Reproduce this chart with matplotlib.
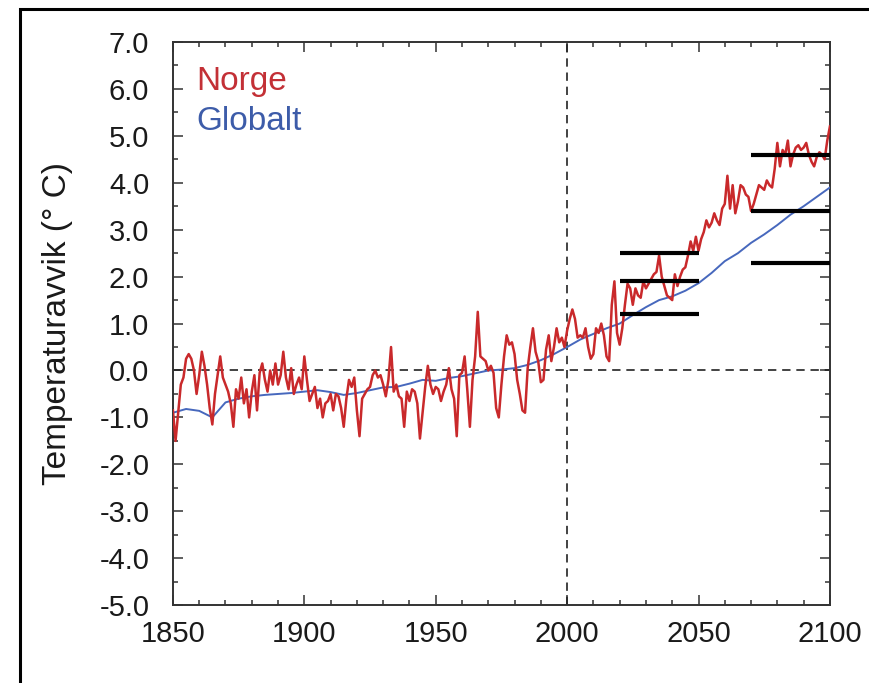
import numpy as np
import matplotlib
matplotlib.use("Agg")
import matplotlib.pyplot as plt
from matplotlib.patches import Rectangle
from matplotlib.ticker import MultipleLocator, FormatStrFormatter

plt.rcParams['font.family'] = ['Liberation Sans', 'DejaVu Sans']

# Norge: annual anomaly, 1850-2100
norge_years = list(range(1850, 2101))
norge = [
    -0.85, -1.5, -0.9, -0.3, -0.15, 0.25, 0.35, 0.25, 0.0, -0.5,      # 1850
    -0.1, 0.4, 0.1, -0.3, -0.8, -1.15, -0.5, -0.1, 0.3, -0.15,        # 1860
    -0.3, -0.45, -0.7, -1.2, -0.4, -0.6, -0.15, -0.7, -0.4, -1.0,     # 1870
    -0.45, -0.1, -0.85, -0.05, 0.15, -0.2, -0.45, 0.0, -0.3, 0.15,    # 1880
    -0.3, -0.1, 0.4, -0.15, -0.4, 0.05, -0.5, -0.3, -0.15, -0.4,      # 1890
    0.3, -0.2, -0.65, -0.5, -0.35, -0.8, -0.6, -1.0, -0.7, -0.65,     # 1900
    -0.5, -0.85, -0.5, -0.55, -0.8, -1.2, -0.6, -0.2, -0.35, -0.15,   # 1910
    -0.85, -1.4, -0.6, -0.5, -0.4, -0.35, -0.1, 0.0, -0.15, -0.1,     # 1920
    -0.3, -0.55, -0.2, 0.5, -0.45, -0.3, -0.55, -0.6, -1.2, -0.45,    # 1930
    -0.65, -0.4, -0.45, -0.7, -1.45, -0.9, -0.35, 0.1, -0.3, -0.5,    # 1940
    -0.35, -0.4, -0.65, -0.45, -0.3, 0.05, -0.4, -0.6, -1.4, -0.1,    # 1950
    -0.05, 0.3, -0.4, -1.2, -0.2, 0.3, 1.25, 0.3, 0.25, 0.2,          # 1960
    0.0, 0.1, -0.05, -0.8, -1.0, -0.3, 0.3, 0.75, 0.55, 0.6,          # 1970
    0.35, -0.2, -0.5, -0.85, -0.9, 0.05, 0.5, 0.9, 0.4, 0.2,          # 1980
    -0.25, -0.2, 0.45, 0.75, 0.2, 0.5, 0.9, 0.6, 0.7, 0.5,            # 1990
    0.85, 1.1, 1.3, 1.1, 0.7, 0.75, 0.7, 0.9, 0.5, 0.25,              # 2000
    0.35, 0.9, 0.8, 1.0, 0.75, 0.3, 0.2, 1.4, 1.9, 0.8,               # 2010
    0.55, 0.9, 1.4, 1.85, 1.75, 1.4, 1.75, 1.6, 1.55, 1.9,            # 2020
    1.75, 1.85, 1.95, 2.05, 2.1, 2.45, 2.0, 1.8, 1.6, 1.55,           # 2030
    1.5, 2.05, 1.8, 2.0, 2.15, 2.2, 2.45, 2.75, 2.55, 2.85,           # 2040
    2.55, 2.8, 2.95, 3.2, 3.05, 3.15, 3.35, 3.2, 3.1, 3.45,           # 2050
    3.55, 4.15, 3.45, 3.95, 3.35, 3.6, 3.95, 3.9, 3.75, 3.7,          # 2060
    3.4, 3.55, 3.75, 3.95, 3.9, 3.85, 4.05, 3.95, 3.9, 4.3,           # 2070
    4.85, 4.35, 4.7, 4.6, 4.9, 4.35, 4.6, 4.75, 4.8, 4.7,             # 2080
    4.75, 4.85, 4.6, 4.45, 4.35, 4.55, 4.65, 4.6, 4.5, 4.9,           # 2090
    5.2,                                                              # 2100
]

# Globalt: smoother global mean, every 5 years
glob_years = list(range(1850, 2101, 5))
globalt = [
    -0.9, -0.82, -0.86, -1.0, -0.68, -0.6, -0.55, -0.52, -0.5, -0.48,
    -0.45, -0.42, -0.46, -0.52, -0.48, -0.42, -0.36, -0.35, -0.28, -0.2,
    -0.22, -0.16, -0.12, -0.06, 0.0, 0.02, 0.05, 0.12, 0.22, 0.35,
    0.5, 0.66, 0.78, 0.9, 1.0, 1.18, 1.35, 1.5, 1.58, 1.7,
    1.86, 2.08, 2.33, 2.5, 2.72, 2.9, 3.1, 3.32, 3.5, 3.7,
    3.9,
]

# scenario levels (low / mid / high) for two periods
period_start = [2020, 2070]
period_end = [2050, 2100]
levels = [[1.2, 1.9, 2.5], [2.3, 3.4, 4.6]]

red = '#c9292b'
blue = '#4768bd'

fig = plt.figure(figsize=(8.69, 6.83), dpi=100)
ax = fig.add_axes([0.199, 0.114, 0.756, 0.8245])

ax.plot(glob_years, globalt, color=blue, lw=1.4, zorder=3)
ax.plot(norge_years, norge, color=red, lw=1.8, zorder=4)

for x0, x1, lv in zip(period_start, period_end, levels):
    for v in lv:
        ax.plot([x0, x1], [v, v], color='black', lw=3.0, solid_capstyle='butt', zorder=5)

ax.axhline(0, color='#222222', lw=1.2, dashes=(5, 3.5), zorder=2)
ax.axvline(2000, color='#222222', lw=1.2, dashes=(5, 3.5), zorder=2)

ax.set_xlim(1850, 2100)
ax.set_ylim(-5, 7)
ax.xaxis.set_major_locator(MultipleLocator(50))
ax.xaxis.set_minor_locator(MultipleLocator(10))
ax.yaxis.set_major_locator(MultipleLocator(1))
ax.yaxis.set_minor_locator(MultipleLocator(0.5))
ax.yaxis.set_major_formatter(FormatStrFormatter('%.1f'))

ax.tick_params(which='both', direction='in', top=True, right=True,
               color='#333333', width=1.1, labelsize=21, labelcolor='#1a1a1a')
ax.tick_params(which='major', length=7)
ax.tick_params(which='minor', length=3.5)
ax.tick_params(axis='y', which='major', pad=17)
ax.tick_params(axis='x', which='major', pad=11)
for s in ax.spines.values():
    s.set_linewidth(1.4)
    s.set_color('#333333')

ax.set_ylabel('Temperaturavvik (° C)', fontsize=24, color='#1a1a1a', labelpad=19)

ax.text(1859, 5.97, 'Norge', color='#c33036', fontsize=24, va='baseline')
ax.text(1859, 5.12, 'Globalt', color='#3d5ca9', fontsize=24, va='baseline')

frame = Rectangle((0.023, -0.05), 1.2, 0.987 + 0.05, transform=fig.transFigure,
                  fill=False, edgecolor='black', lw=2.2, clip_on=False)
fig.add_artist(frame)

fig.savefig('out.png', dpi=100)
